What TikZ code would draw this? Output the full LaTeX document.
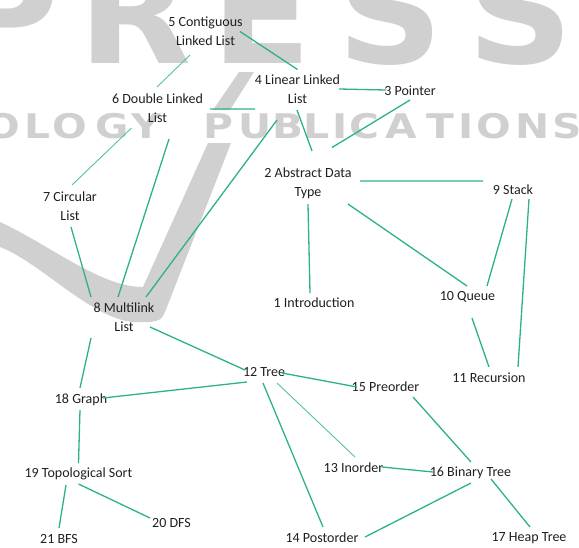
\documentclass[tikz,border=0pt]{standalone}
\usepackage{fontspec}
\setmainfont{Carlito}
\newfontfamily\wmfont{DejaVu Sans}
\definecolor{edgegreen}{RGB}{45,179,127}
\definecolor{wmgray}{RGB}{208,208,208}

\begin{document}
\begin{tikzpicture}
  [
    x=1pt, y=-1pt,
    topic/.style = {font=\fontsize{14}{19}\selectfont, text=black!88, align=center, inner sep=0pt},
    link/.style  = {draw=edgegreen, line width=1.3pt},
    faint/.style = {draw=edgegreen!80, line width=0.9pt},
    wm/.style    = {text=wmgray, inner sep=0pt, anchor=base},
  ]
  \useasboundingbox (0,0) rectangle (579,547);

  % watermark behind the graph
  \begin{scope}
    \clip (0,0) rectangle (579,547);
    \foreach \c/\x in {P/5, R/135, E/262, S/390, S/520}
      \node[wm, xscale=1.05, font=\wmfont\bfseries\fontsize{140}{140}\selectfont] (big\x) at (\x,63) {\c};
    \foreach \c/\x in {O/3, L/37, O/70, G/112, Y/146, P/218, U/255, B/288, L/316, I/340,
                       C/364, A/401, T/440, I/466, O/494, N/533, S/567}
      \node[wm, xscale=1.2, font=\wmfont\bfseries\fontsize{34}{34}\selectfont] (small\x) at (\x,138) {\c};
    \fill[wmgray] (239,72) -- (254,72) -- (230,110) -- (213,110) -- cycle;
    \fill[wmgray] (0,222) .. controls (50,245) and (100,287) .. (143,287) -- (208,143) -- (231,143)
      -- (165,312) .. controls (161,320) .. (150,322) -- (133,322)
      .. controls (90,318) and (40,262) .. (0,247) -- cycle;
  \end{scope}

  \node[topic] (contig)    at (205.5,31.5) {5 Contiguous\\Linked List};
  \node[topic] (linear)    at (297.5,89.5) {4 Linear Linked\\List};
  \node[topic] (pointer)   at (410,91)     {3 Pointer};
  \node[topic] (double)    at (157.5,108)  {6 Double Linked\\List};
  \node[topic] (adt)       at (308,183.5)  {2 Abstract Data\\Type};
  \node[topic] (stack)     at (513,190)    {9 Stack};
  \node[topic] (circular)  at (70,206.5)   {7 Circular\\List};
  \node[topic] (intro)     at (314,303)    {1 Introduction};
  \node[topic] (queue)     at (467.5,297)  {10 Queue};
  \node[topic] (multi)     at (124,317.5)  {8 Multilink\\List};
  \node[topic] (recur)     at (489,377.5)  {11 Recursion};
  \node[topic] (tree)      at (264,372)    {12 Tree};
  \node[topic] (preorder)  at (385.5,387)  {15 Preorder};
  \node[topic] (graph)     at (81,400)     {18 Graph};
  \node[topic] (inorder)   at (353.5,468)  {13 Inorder};
  \node[topic] (binary)    at (470.5,473)  {16 Binary Tree};
  \node[topic] (topo)      at (78.5,474)   {19 Topological Sort};
  \node[topic] (dfs)       at (171.5,523)  {20 DFS};
  \node[topic] (bfs)       at (59,539)     {21 BFS};
  \node[topic] (postorder) at (322,538)    {14 Postorder};
  \node[topic] (heap)      at (529,538)    {17 Heap Tree};

  % list part
  \draw[link]
    ([shift={(34.5,0)}]contig.center)   -- ([shift={(0,-20)}]linear.center)
    ([shift={(41.5,-0.5)}]linear.center) -- ([shift={(-24,-1)}]pointer.center)
    ([shift={(52.5,1)}]double.center)   -- ([shift={(-42.5,19.5)}]linear.center)
    ([shift={(11.5,31)}]double.center)  -- ([shift={(-6,-20.5)}]multi.center)
    ([shift={(-20.5,30.5)}]linear.center) -- ([shift={(22,-20.5)}]multi.center)
    ([shift={(-0.5,20.5)}]linear.center) -- ([shift={(4,-32.5)}]adt.center)
    ([shift={(0,9)}]pointer.center)     -- ([shift={(24,-36)}]adt.center)
    ([shift={(1,20.5)}]circular.center) -- ([shift={(-33,-20.5)}]multi.center);
  \draw[faint]
    ([shift={(-15.5,23.5)}]contig.center) -- ([shift={(-0.5,-21)}]double.center)
    ([shift={(-26,20)}]double.center)   -- ([shift={(2,-21.5)}]circular.center);

  % stack and queue
  \draw[link]
    ([shift={(52,-2.5)}]adt.center)  -- ([shift={(-30,-9)}]stack.center)
    ([shift={(0,20.5)}]adt.center)   -- ([shift={(-4,-10)}]intro.center)
    ([shift={(40,20.5)}]adt.center)  -- ([shift={(-0.5,-11)}]queue.center)
    ([shift={(-1,9)}]stack.center)   -- ([shift={(19.5,-11)}]queue.center)
    ([shift={(16,9)}]stack.center)   -- ([shift={(29,-10.5)}]recur.center)
    ([shift={(4.5,21)}]queue.center) -- ([shift={(0,-10.5)}]recur.center);

  % trees and graphs
  \draw[link]
    ([shift={(26,9.5)}]multi.center)  -- ([shift={(-19,-2)}]tree.center)
    ([shift={(-33,20.5)}]multi.center) -- ([shift={(-1,-12)}]graph.center)
    ([shift={(-17,10)}]tree.center)   -- ([shift={(22,-2)}]graph.center)
    ([shift={(-1,10)}]graph.center)   -- ([shift={(0,-11)}]topo.center)
    ([shift={(-12.5,11)}]topo.center) -- ([shift={(0,-11)}]bfs.center)
    ([shift={(0,10)}]topo.center)     -- ([shift={(-21.5,-5)}]dfs.center)
    ([shift={(18,1)}]tree.center)     -- ([shift={(-28.5,0)}]preorder.center)
    ([shift={(-1,11)}]tree.center)    -- ([shift={(1,-11)}]postorder.center)
    ([shift={(28.5,-1)}]inorder.center) -- ([shift={(-37.5,-1)}]binary.center)
    ([shift={(27.5,10)}]preorder.center) -- ([shift={(0.5,-11)}]binary.center)
    ([shift={(0.5,10)}]binary.center) -- ([shift={(43,-1)}]postorder.center)
    ([shift={(20.5,6)}]binary.center) -- ([shift={(1,-11)}]heap.center);
  \draw[faint]
    ([shift={(13,11)}]tree.center) -- ([shift={(1.5,-11)}]inorder.center);
\end{tikzpicture}
\end{document}
